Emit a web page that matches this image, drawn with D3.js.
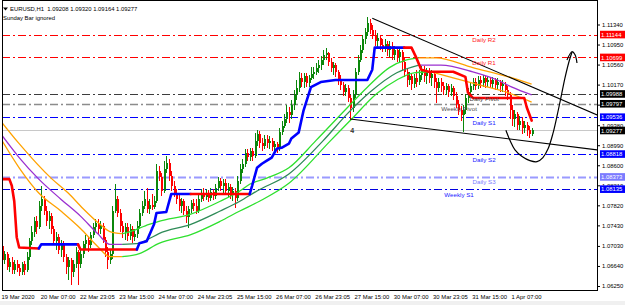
<!DOCTYPE html>
<html><head><meta charset="utf-8">
<script src="https://cdn.jsdelivr.net/npm/d3@7"></script>
<style>
html,body{margin:0;padding:0;background:#fff;overflow:hidden;}
svg{display:block;}
text{font-family:"Liberation Sans",Arial,sans-serif;}
</style></head><body>
<svg id="c" width="625" height="305"></svg>
<script>
// ---------- DATA ----------
const symbol = "EURUSD,H1";
const lastBar = [1.09208,1.09320,1.09164,1.09277];
const indicatorNote = "Sunday Bar ignored";
// H1 candles [open, high, low, close]
const candles = [
[1.0702,1.0706,1.0668,1.0676],[1.0676,1.0694,1.0668,1.0688],[1.0688,1.0692,1.0657,1.0662],[1.0662,1.0680,1.0653,1.0672],
[1.0672,1.0682,1.0649,1.0657],[1.0657,1.0676,1.0649,1.0668],[1.0668,1.0676,1.0653,1.0660],[1.0660,1.0668,1.0645,1.0653],
[1.0653,1.0672,1.0647,1.0668],[1.0668,1.0674,1.0647,1.0657],[1.0657,1.0692,1.0653,1.0682],[1.0682,1.0719,1.0676,1.0712],
[1.0712,1.0741,1.0704,1.0731],[1.0731,1.0759,1.0721,1.0751],[1.0751,1.0761,1.0727,1.0739],[1.0739,1.0790,1.0735,1.0780],
[1.0780,1.0820,1.0771,1.0794],[1.0794,1.0800,1.0763,1.0771],[1.0771,1.0780,1.0741,1.0751],[1.0751,1.0771,1.0735,1.0761],
[1.0761,1.0767,1.0727,1.0735],[1.0735,1.0741,1.0704,1.0712],[1.0712,1.0731,1.0696,1.0721],[1.0721,1.0727,1.0688,1.0696],
[1.0696,1.0715,1.0682,1.0708],[1.0708,1.0712,1.0672,1.0682],[1.0682,1.0688,1.0649,1.0662],[1.0662,1.0682,1.0637,1.0676],
[1.0676,1.0680,1.0627,1.0653],[1.0653,1.0676,1.0643,1.0668],[1.0668,1.0700,1.0660,1.0692],[1.0692,1.0696,1.0627,1.0668],
[1.0668,1.0696,1.0660,1.0688],[1.0688,1.0712,1.0680,1.0706],[1.0706,1.0725,1.0696,1.0715],[1.0715,1.0721,1.0692,1.0704],
[1.0704,1.0731,1.0698,1.0725],[1.0725,1.0747,1.0719,1.0739],[1.0739,1.0755,1.0731,1.0747],[1.0747,1.0755,1.0725,1.0735],
[1.0735,1.0751,1.0727,1.0741],[1.0741,1.0747,1.0708,1.0715],[1.0715,1.0721,1.0682,1.0692],[1.0692,1.0700,1.0658,1.0676],
[1.0676,1.0696,1.0668,1.0688],[1.0688,1.0780,1.0678,1.0771],[1.0771,1.0823,1.0767,1.0794],[1.0794,1.0800,1.0759,1.0767],
[1.0767,1.0774,1.0731,1.0741],[1.0741,1.0751,1.0719,1.0731],[1.0731,1.0747,1.0715,1.0739],[1.0739,1.0747,1.0712,1.0723],
[1.0723,1.0745,1.0715,1.0735],[1.0735,1.0741,1.0708,1.0721],[1.0721,1.0735,1.0712,1.0727],[1.0727,1.0751,1.0719,1.0741],
[1.0741,1.0774,1.0735,1.0767],[1.0767,1.0790,1.0761,1.0780],[1.0780,1.0810,1.0774,1.0794],[1.0790,1.0816,1.0767,1.0774],
[1.0774,1.0794,1.0765,1.0782],[1.0782,1.0804,1.0772,1.0778],[1.0778,1.0800,1.0774,1.0790],[1.0790,1.0863,1.0786,1.0849],
[1.0849,1.0859,1.0829,1.0837],[1.0837,1.0845,1.0800,1.0810],[1.0810,1.0869,1.0806,1.0853],[1.0853,1.0879,1.0845,1.0865],
[1.0865,1.0873,1.0829,1.0839],[1.0839,1.0849,1.0810,1.0820],[1.0820,1.0829,1.0798,1.0806],[1.0806,1.0814,1.0784,1.0794],
[1.0794,1.0802,1.0771,1.0780],[1.0780,1.0796,1.0767,1.0790],[1.0790,1.0794,1.0763,1.0771],[1.0771,1.0780,1.0747,1.0759],
[1.0759,1.0780,1.0737,1.0774],[1.0774,1.0792,1.0767,1.0786],[1.0786,1.0794,1.0771,1.0780],[1.0780,1.0794,1.0765,1.0771],
[1.0771,1.0804,1.0767,1.0794],[1.0794,1.0814,1.0788,1.0806],[1.0806,1.0816,1.0790,1.0798],[1.0798,1.0814,1.0792,1.0806],
[1.0806,1.0812,1.0788,1.0796],[1.0796,1.0816,1.0790,1.0808],[1.0808,1.0814,1.0792,1.0800],[1.0800,1.0823,1.0794,1.0816],
[1.0816,1.0837,1.0810,1.0829],[1.0829,1.0835,1.0810,1.0820],[1.0820,1.0833,1.0804,1.0825],[1.0825,1.0833,1.0802,1.0810],
[1.0810,1.0825,1.0798,1.0818],[1.0818,1.0823,1.0794,1.0804],[1.0804,1.0818,1.0790,1.0810],[1.0810,1.0816,1.0776,1.0796],
[1.0796,1.0839,1.0790,1.0829],[1.0829,1.0863,1.0823,1.0853],[1.0853,1.0873,1.0845,1.0863],[1.0863,1.0892,1.0857,1.0884],
[1.0884,1.0892,1.0869,1.0877],[1.0877,1.0894,1.0869,1.0888],[1.0888,1.0894,1.0869,1.0879],[1.0879,1.0922,1.0875,1.0908],
[1.0908,1.0928,1.0898,1.0920],[1.0920,1.0926,1.0894,1.0904],[1.0904,1.0914,1.0888,1.0898],[1.0898,1.0918,1.0892,1.0912],
[1.0912,1.0918,1.0894,1.0904],[1.0904,1.0916,1.0892,1.0908],[1.0908,1.0914,1.0888,1.0896],[1.0896,1.0908,1.0888,1.0902],
[1.0902,1.0906,1.0884,1.0892],[1.0892,1.0932,1.0888,1.0924],[1.0924,1.0947,1.0918,1.0937],[1.0937,1.0959,1.0932,1.0951],
[1.0951,1.0977,1.0943,1.0963],[1.0963,1.0973,1.0943,1.0957],[1.0957,1.0987,1.0951,1.0977],[1.0977,1.1006,1.0967,1.0997],
[1.0997,1.1026,1.0987,1.1010],[1.1010,1.1042,1.1002,1.1030],[1.1030,1.1040,1.1012,1.1022],[1.1022,1.1040,1.1010,1.1034],
[1.1034,1.1040,1.1012,1.1020],[1.1020,1.1036,1.1012,1.1030],[1.1030,1.1051,1.1026,1.1038],[1.1038,1.1051,1.1028,1.1042],
[1.1042,1.1059,1.1036,1.1050],[1.1050,1.1065,1.1040,1.1055],[1.1055,1.1073,1.1046,1.1065],[1.1065,1.1085,1.1055,1.1075],
[1.1075,1.1089,1.1065,1.1079],[1.1079,1.1081,1.1053,1.1061],[1.1061,1.1069,1.1042,1.1050],[1.1050,1.1061,1.1036,1.1055],
[1.1055,1.1059,1.1032,1.1042],[1.1042,1.1046,1.1016,1.1026],[1.1026,1.1036,1.1006,1.1016],[1.1016,1.1022,1.0995,1.1002],
[1.1002,1.1018,1.0995,1.1010],[1.1010,1.1016,1.0983,1.0991],[1.0991,1.0997,1.0947,1.0971],[1.0971,1.1006,1.0963,1.0997],
[1.0997,1.1050,1.0991,1.1042],[1.1042,1.1075,1.1036,1.1065],[1.1065,1.1095,1.1061,1.1085],[1.1085,1.1114,1.1079,1.1105],
[1.1105,1.1128,1.1097,1.1120],[1.1120,1.1148,1.1112,1.1136],[1.1136,1.1144,1.1116,1.1124],[1.1124,1.1134,1.1105,1.1112],
[1.1112,1.1124,1.1093,1.1101],[1.1101,1.1118,1.1091,1.1108],[1.1108,1.1114,1.1085,1.1095],[1.1095,1.1105,1.1081,1.1089],
[1.1089,1.1105,1.1081,1.1097],[1.1097,1.1101,1.1073,1.1085],[1.1085,1.1101,1.1071,1.1093],[1.1093,1.1099,1.1065,1.1075],
[1.1075,1.1093,1.1065,1.1085],[1.1085,1.1091,1.1061,1.1071],[1.1071,1.1089,1.1059,1.1081],[1.1081,1.1085,1.1046,1.1061],
[1.1061,1.1069,1.1032,1.1042],[1.1042,1.1050,1.1012,1.1026],[1.1026,1.1042,1.1016,1.1034],[1.1034,1.1038,1.1006,1.1018],
[1.1018,1.1038,1.1010,1.1030],[1.1030,1.1046,1.1012,1.1022],[1.1022,1.1046,1.1016,1.1036],[1.1036,1.1053,1.1026,1.1046],
[1.1046,1.1053,1.1022,1.1034],[1.1034,1.1050,1.1018,1.1042],[1.1042,1.1050,1.1020,1.1030],[1.1030,1.1046,1.1014,1.1038],
[1.1038,1.1042,1.1010,1.1022],[1.1022,1.1030,1.0981,1.1010],[1.1010,1.1030,1.1002,1.1022],[1.1022,1.1030,1.1002,1.1014],
[1.1014,1.1022,1.0997,1.1006],[1.1006,1.1020,1.0997,1.1014],[1.1014,1.1018,1.0993,1.1002],[1.1002,1.1018,1.0995,1.1010],
[1.1010,1.1014,1.0987,1.0995],[1.0995,1.1002,1.0971,1.0979],[1.0979,1.0987,1.0957,1.0967],[1.0967,1.0975,1.0947,1.0957],
[1.0957,1.0977,1.0924,1.0967],[1.0967,1.0998,1.0959,1.0991],[1.0991,1.1010,1.0981,1.1002],[1.1002,1.1022,1.0995,1.1014],
[1.1014,1.1030,1.1006,1.1022],[1.1022,1.1030,1.1006,1.1014],[1.1014,1.1034,1.1008,1.1026],[1.1026,1.1034,1.1010,1.1020],
[1.1020,1.1036,1.1012,1.1030],[1.1030,1.1034,1.1010,1.1022],[1.1022,1.1034,1.1012,1.1026],[1.1026,1.1032,1.1010,1.1018],
[1.1018,1.1032,1.1010,1.1026],[1.1026,1.1030,1.1006,1.1016],[1.1016,1.1030,1.1006,1.1022],[1.1022,1.1026,1.1002,1.1014],
[1.1014,1.1026,1.1002,1.1018],[1.1018,1.1022,1.0995,1.1006],[1.1006,1.1014,1.0987,1.0997],[1.0997,1.1002,1.0951,1.0967],
[1.0967,1.0977,1.0937,1.0951],[1.0951,1.0967,1.0934,1.0959],[1.0959,1.0963,1.0928,1.0939],[1.0939,1.0955,1.0928,1.0947],
[1.0947,1.0953,1.0920,1.0932],[1.0932,1.0947,1.0922,1.0939],[1.0939,1.0945,1.0916,1.0928],[1.0928,1.0937,1.0914,1.0921],
[1.09208,1.09320,1.09164,1.09277]
];
// moving-average envelope: [bar, price, state(0=down,1=up)]
const maUpper = [[0,1.0943,0],[7,1.0902,0],[20,1.0835,0],[27,1.0806,0],[33,1.0776,0],[40,1.0745,0],[44,1.0731,0],[49,1.0727,0],[51,1.0729,1],[60,1.0745,1],[64,1.0751,1],[77,1.0765,1],[89,1.0790,1],[97,1.0810,1],[101,1.0823,1],[108,1.0835,1],[117,1.0855,1],[128,1.0908,1],[141,1.0973,1],[149,1.1012,1],[158,1.1050,1],[165,1.1065,1],[170,1.1069,1],[177,1.1069,0],[192,1.1050,0],[208,1.1030,0],[216,1.1018,0]];
const maMiddle = [[0,1.0918,0],[7,1.0875,0],[15,1.0833,0],[24,1.0794,0],[32,1.0761,0],[39,1.0727,0],[44,1.0706,0],[49,1.0706,0],[56,1.0708,1],[60,1.0717,1],[64,1.0727,1],[77,1.0745,1],[89,1.0771,1],[97,1.0790,1],[104,1.0810,1],[117,1.0843,1],[131,1.0908,1],[141,1.0961,1],[150,1.1002,1],[161,1.1040,1],[170,1.1055,1],[179,1.1055,0],[192,1.1042,0],[202,1.1026,0],[208,1.1012,0],[216,1.0997,0]];
const maLower = [[0,1.0908,0],[7,1.0855,0],[15,1.0806,0],[24,1.0771,0],[32,1.0737,0],[39,1.0702,0],[44,1.0682,0],[49,1.0682,0],[56,1.0688,1],[64,1.0708,1],[77,1.0725,1],[89,1.0751,1],[97,1.0771,1],[105,1.0790,1],[117,1.0825,1],[134,1.0908,1],[142,1.0947,1],[153,1.1000,1],[161,1.1026,1],[168,1.1040,1],[175,1.1042,1],[184,1.1030,0],[195,1.1016,0],[206,1.1002,0],[216,1.0983,0]];
// trailing trend line [bar, price, state]
const trendStop = [[0,1.0833,0],[3,1.0833,0],[4,1.0820,0],[5,1.0790,0],[6,1.0720,0],[7,1.0700,0],[15,1.0698,0],[16,1.0706,1],[31,1.0706,1],[32,1.0696,0],[55,1.0696,0],[56,1.0708,1],[59,1.0712,1],[62,1.0745,1],[63,1.0767,1],[67,1.0769,1],[69,1.0804,1],[77,1.0804,1],[78,1.0804,0],[101,1.0804,0],[102,1.0820,1],[104,1.0855,1],[106,1.0863,1],[108,1.0869,1],[110,1.0875,1],[112,1.0892,1],[114,1.0894,1],[117,1.0902,1],[118,1.0912,1],[121,1.0924,1],[123,1.0967,1],[126,1.1012,1],[130,1.1022,1],[136,1.1026,1],[149,1.1026,1],[151,1.1046,1],[152,1.1089,1],[164,1.1089,1],[167,1.1089,0],[169,1.1069,0],[171,1.1046,0],[174,1.1042,0],[184,1.1042,0],[185,1.1040,0],[189,1.1032,0],[190,1.1002,0],[192,1.0991,0],[213,1.0991,0],[214,1.0973,0],[216,1.0947,0]];
const pivotNames = ["Daily R2","Daily R1","Daily Pivot","Weekly Pivot","Daily S1","Daily S2","Daily S3","Weekly S1"];
const pivotValues = [1.11144,1.10699,1.09988,1.09797,1.09536,1.08818,1.08373,1.08135];
const currentPrice = 1.09277;
const trendLines = [[[151,1.1146],[242.7,1.0958]],[[142,1.0950],[242.7,1.0890]]];
const waveLabel = {text:"4", bar:142, price:1.0926};
const sketchPath = [[205.5,1.0928],[207.2,1.0908],[209.2,1.0890],[212.1,1.0877],[215.3,1.0869],[218.2,1.0867],[220.6,1.0875],[222.7,1.0892],[224.7,1.0922],[226.4,1.0957],[228,1.0993],[229.6,1.1030],[231.2,1.1061],[232.5,1.1081]];
const sketchHead = [[230.4,1.1065],[232.5,1.1081],[233.7,1.1075],[234.5,1.1059]];
const yTickValues = [1.06250,1.06640,1.07030,1.07430,1.07820,1.08210,1.08600,1.08990,1.09380,1.09780,1.10170,1.10560,1.10950,1.11340];
const xTickBars = [0,16,32,48,64,80,96,112,128,144,160,176,192,208];
const xTickLabels = ["19 Mar 2020","20 Mar 07:00","22 Mar 23:05","23 Mar 15:00","24 Mar 07:00","24 Mar 23:05","25 Mar 15:00","26 Mar 07:00","26 Mar 23:05","27 Mar 15:00","30 Mar 07:00","30 Mar 23:05","31 Mar 15:00","1 Apr 07:00"];

// ---------- LAYOUT ----------
const PL=2, PR=597, PT=0.5, PB=290;
const FS=5.9;
const svg=d3.select('#c');
const x=d3.scaleLinear().domain([0,216]).range([2,2+216*2.452]);
const y=d3.scaleLinear().domain([1.0625,1.1134]).range([286,24.5]);

svg.append('rect').attr('width',625).attr('height',305).attr('fill','#fff');
svg.append('rect').attr('x',0).attr('y',301).attr('width',625).attr('height',4).attr('fill','#f0f0f0');
svg.append('defs').append('clipPath').attr('id','clip').append('rect')
  .attr('x',PL).attr('y',PT).attr('width',PR-PL).attr('height',PB-PT);
const plot=svg.append('g').attr('clip-path','url(#clip)');

const pivotStyle = {
  "Daily R2":{c:"#ff0000",w:1,box:"#ff0000",tc:"#ff2020"},
  "Daily R1":{c:"#ff0000",w:1,box:"#ff0000",tc:"#ff2020"},
  "Daily Pivot":{c:"#3c3c3c",w:1,box:"#000000",tc:"#404040"},
  "Weekly Pivot":{c:"#8c8c8c",w:1.6,box:"#000000",tc:"#505050"},
  "Daily S1":{c:"#0000ff",w:1,box:"#0000ff",tc:"#2020ff"},
  "Daily S2":{c:"#0000ff",w:1,box:"#0000ff",tc:"#2020ff"},
  "Daily S3":{c:"#9a9aff",w:2,box:"#7b7bff",tc:"#7b7bff"},
  "Weekly S1":{c:"#0000e0",w:1,box:"#0000ff",tc:"#2020ff"}
};
const pivots = pivotNames.map((n,k)=>({name:n,value:pivotValues[k]}));

// pivot lines
plot.selectAll('line.pv').data(pivots).join('line').attr('class','pv')
  .attr('x1',PL).attr('x2',PR)
  .attr('y1',d=>Math.round(y(d.value))+0.5).attr('y2',d=>Math.round(y(d.value))+0.5)
  .attr('stroke',d=>pivotStyle[d.name].c).attr('stroke-width',d=>pivotStyle[d.name].w)
  .attr('stroke-dasharray','8,3,2,3');
// current price line
plot.append('line').attr('x1',PL).attr('x2',PR)
  .attr('y1',Math.round(y(currentPrice))+0.5).attr('y2',Math.round(y(currentPrice))+0.5)
  .attr('stroke','#c8c8c8').attr('stroke-width',1);

// candles
const cg=plot.append('g').attr('shape-rendering','crispEdges');
const upC='#0b870b', dnC='#ff0000';
cg.selectAll('rect.w').data(candles).join('rect').attr('class','w')
  .attr('x',(d,i)=>Math.round(x(i)))
  .attr('width',1)
  .attr('y',d=>y(d[1])).attr('height',d=>Math.max(1,y(d[2])-y(d[1])))
  .attr('fill',d=>d[3]>=d[0]?upC:dnC);
cg.selectAll('rect.b').data(candles).join('rect').attr('class','b')
  .attr('x',(d,i)=>Math.round(x(i))-0.5)
  .attr('width',2)
  .attr('y',d=>y(Math.max(d[0],d[3])))
  .attr('height',d=>Math.max(1,Math.abs(y(d[0])-y(d[3]))))
  .attr('fill',d=>d[3]>=d[0]?upC:dnC);

// coloured indicator lines
function runs(pts){
  const out=[]; let cur=null;
  for(let k=1;k<pts.length;k++){
    const s=pts[k][2];
    if(!cur||cur.s!==s){cur={s,pts:[pts[k-1]]};out.push(cur);}
    cur.pts.push(pts[k]);
  }
  return out;
}
const smooth=d3.line().x(d=>x(d[0])).y(d=>y(d[1])).curve(d3.curveMonotoneX);
const straight=d3.line().x(d=>x(d[0])).y(d=>y(d[1]));
const bands=[{pts:maUpper,cols:['#ffa200','#2ee02e']},{pts:maMiddle,cols:['#9b30d0','#2e8b57']},{pts:maLower,cols:['#ffa200','#2ee02e']}];
bands.forEach(b=>{
  plot.selectAll(null).data(runs(b.pts)).join('path')
    .attr('d',r=>smooth(r.pts)).attr('fill','none')
    .attr('stroke',r=>b.cols[r.s]).attr('stroke-width',1.3).attr('stroke-linejoin','round');
});
plot.selectAll(null).data(runs(trendStop)).join('path')
  .attr('d',r=>straight(r.pts)).attr('fill','none')
  .attr('stroke',r=>r.s?'#0000ff':'#ff0000').attr('stroke-width',2.6)
  .attr('stroke-linejoin','round').attr('stroke-linecap','round');

// trendlines
plot.selectAll(null).data(trendLines).join('path')
  .attr('d',d=>straight(d)).attr('stroke','#000').attr('stroke-width',1.1).attr('fill','none');
// sketch arrow
const curveL=d3.line().x(d=>x(d[0])).y(d=>y(d[1])).curve(d3.curveCatmullRom);
plot.append('path').attr('d',curveL(sketchPath)).attr('fill','none').attr('stroke','#000').attr('stroke-width',1.2);
plot.append('path').attr('d',curveL(sketchHead)).attr('fill','none').attr('stroke','#000').attr('stroke-width',1.2);

// pivot labels
plot.selectAll('text.pl').data(pivots).join('text').attr('class','pl')
  .attr('x',d=>d.name.startsWith('Weekly')?x(186.4):x(196.6))
  .attr('y',d=>y(d.value)+7.5)
  .attr('text-anchor','middle').attr('font-size',FS+0.3)
  .attr('fill',d=>pivotStyle[d.name].tc).text(d=>d.name);
plot.append('text').attr('x',x(waveLabel.bar)).attr('y',y(waveLabel.price)+2)
  .attr('font-size',7).attr('font-weight','bold').attr('fill','#333').text(waveLabel.text);

// frame
svg.append('rect').attr('x',PL+0.5).attr('y',PT).attr('width',PR-PL-0.5).attr('height',PB-PT)
  .attr('fill','none').attr('stroke','#000').attr('stroke-width',1).attr('shape-rendering','crispEdges');

// right axis
const ya=svg.append('g').attr('transform',`translate(${PR},0)`)
  .call(d3.axisRight(y).tickValues(yTickValues).tickFormat(d3.format('.5f')).tickSize(3).tickPadding(2));
ya.select('.domain').remove();
ya.selectAll('text').attr('font-size',FS).attr('fill','#000').attr('font-family','"Liberation Sans",Arial,sans-serif');
ya.selectAll('line').attr('stroke','#000');

// price boxes
const boxes = pivots.map(p=>({v:p.value,c:pivotStyle[p.name].box})).concat([{v:currentPrice,c:'#000'}]);
const bg=svg.append('g');
bg.selectAll('rect').data(boxes).join('rect')
  .attr('x',PR+3).attr('y',d=>y(d.v)-3.8).attr('width',25).attr('height',7.6).attr('fill',d=>d.c);
bg.selectAll('text').data(boxes).join('text')
  .attr('x',PR+4).attr('y',d=>y(d.v)+2.1).attr('font-size',FS).attr('fill','#fff')
  .text(d=>d3.format('.5f')(d.v));

// bottom axis
const xa=svg.append('g').attr('transform',`translate(0,${PB})`)
  .call(d3.axisBottom(x).tickValues(xTickBars).tickFormat((d,k)=>xTickLabels[k]).tickSize(0).tickPadding(0));
xa.select('.domain').remove();
xa.selectAll('text').attr('font-size',FS).attr('fill','#000').attr('text-anchor','start')
  .attr('dx',-1).attr('dy','0').attr('y',8.5)
  .attr('font-family','"Liberation Sans",Arial,sans-serif');

// header
svg.append('path').attr('d','M3,7.5 L8,7.5 L5.5,10.5 Z').attr('fill','#000');
svg.append('text').attr('x',10).attr('y',11).attr('font-size',FS).attr('fill','#000')
  .attr('xml:space','preserve')
  .text(symbol+'  '+lastBar.map(v=>v.toFixed(5)).join(' '));
svg.append('text').attr('x',3).attr('y',19.5).attr('font-size',FS).attr('fill','#000').text(indicatorNote);
</script>
</body></html>
